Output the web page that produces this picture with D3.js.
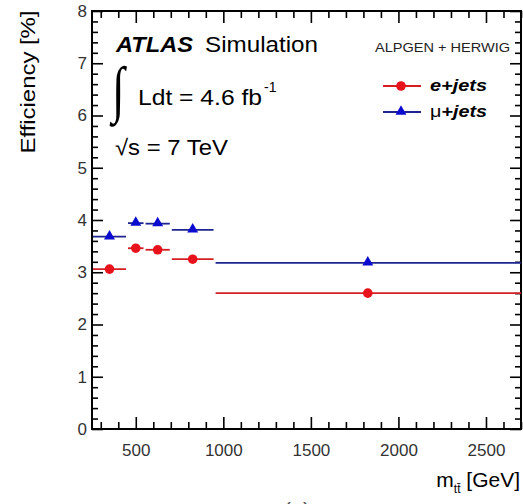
<!DOCTYPE html>
<html>
<head>
<meta charset="utf-8">
<script src="https://cdn.jsdelivr.net/npm/d3@7"></script>
<style>
  html, body { margin: 0; padding: 0; background: #fff; }
  svg { display: block; font-family: "Liberation Sans", Arial, Helvetica, sans-serif; }
</style>
</head>
<body>
<svg id="chart" width="523" height="504"></svg>
<script>
// ---- data ----
const binLow  = [250, 450, 550, 700, 950];
const binHigh = [450, 550, 700, 950, 2700];
const binCenter = [350, 500, 625, 825, 1825];
const effElectron = [3.06, 3.46, 3.43, 3.25, 2.60];
const effMuon     = [3.68, 3.94, 3.93, 3.81, 3.18];
const xMajorTicks = [500, 1000, 1500, 2000, 2500];
const yMajorTicks = [0, 1, 2, 3, 4, 5, 6, 7, 8];
const seriesNames = ["e+jets", "μ+jets"];

// ---- layout ----
const svg = d3.select("#chart");
const x = d3.scaleLinear().domain([250, 2700]).range([92, 521]);
const y = d3.scaleLinear().domain([0, 8]).range([429, 11]);

const xMinor = d3.range(300, 2701, 100).filter(v => v % 500 !== 0);
const yMinor = d3.range(0, 8.001, 0.2).map(v => +v.toFixed(1)).filter(v => Math.abs(v - Math.round(v)) > 1e-6);

const tickCol = "#000";
function styleAxis(g) {
  g.select(".domain").remove();
  g.selectAll(".tick line").attr("stroke", tickCol).attr("stroke-width", 1.6);
}

// bottom axis major with labels
svg.append("g").attr("transform", `translate(0,${y(0)})`)
  .call(d3.axisBottom(x).tickValues(xMajorTicks).tickSizeInner(-12).tickSizeOuter(0).tickPadding(15).tickFormat(d3.format("d")))
  .call(styleAxis)
  .call(g => g.selectAll("text").attr("font-size", 17).attr("fill", "#333").attr("font-family", "Liberation Sans, Arial, sans-serif"));
svg.append("g").attr("transform", `translate(0,${y(0)})`)
  .call(d3.axisBottom(x).tickValues(xMinor).tickSize(-7).tickFormat(""))
  .call(styleAxis);
// top axis
svg.append("g").attr("transform", `translate(0,${y(8)})`)
  .call(d3.axisTop(x).tickValues(xMajorTicks).tickSize(-12).tickFormat(""))
  .call(styleAxis);
svg.append("g").attr("transform", `translate(0,${y(8)})`)
  .call(d3.axisTop(x).tickValues(xMinor).tickSize(-7).tickFormat(""))
  .call(styleAxis);
// left axis
svg.append("g").attr("transform", `translate(${x(250)},0)`)
  .call(d3.axisLeft(y).tickValues(yMajorTicks).tickSizeInner(-11).tickSizeOuter(0).tickPadding(5).tickFormat(d3.format("d")))
  .call(styleAxis)
  .call(g => g.selectAll("text").attr("font-size", 17).attr("fill", "#333").attr("font-family", "Liberation Sans, Arial, sans-serif"));
svg.append("g").attr("transform", `translate(${x(250)},0)`)
  .call(d3.axisLeft(y).tickValues(yMinor).tickSize(-6).tickFormat(""))
  .call(styleAxis);
// right axis
svg.append("g").attr("transform", `translate(${x(2700)},0)`)
  .call(d3.axisRight(y).tickValues(yMajorTicks).tickSize(-11).tickFormat(""))
  .call(styleAxis);
svg.append("g").attr("transform", `translate(${x(2700)},0)`)
  .call(d3.axisRight(y).tickValues(yMinor).tickSize(-6).tickFormat(""))
  .call(styleAxis);

// frame
svg.append("rect")
  .attr("x", x(250)).attr("y", y(8))
  .attr("width", x(2700) - x(250)).attr("height", y(0) - y(8))
  .attr("fill", "none").attr("stroke", "#000").attr("stroke-width", 2);

// ---- data series ----
const series = [
  { vals: effMuon, line: "#1e2490", mark: "#0b0bcf", shape: "tri" },
  { vals: effElectron, line: "#d41e24", mark: "#e8121c", shape: "circ" }
];
const triPath = d3.symbol().type(d3.symbolTriangle).size(52);
series.forEach(s => {
  const g = svg.append("g");
  g.selectAll("line.bin").data(s.vals).enter().append("line")
    .attr("x1", (d, i) => x(binLow[i]) + 1).attr("x2", (d, i) => x(binHigh[i]) - (i === binHigh.length - 1 ? 0 : 1))
    .attr("y1", d => y(d)).attr("y2", d => y(d))
    .attr("stroke", s.line).attr("stroke-width", 1.8);
  if (s.shape === "circ") {
    g.selectAll("circle").data(s.vals).enter().append("circle")
      .attr("cx", (d, i) => x(binCenter[i])).attr("cy", d => y(d)).attr("r", 4.8)
      .attr("fill", s.mark);
  } else {
    g.selectAll("path").data(s.vals).enter().append("path")
      .attr("d", triPath)
      .attr("transform", (d, i) => `translate(${x(binCenter[i])},${y(d) - 0.5})`)
      .attr("fill", s.mark);
  }
});

// ---- labels ----
svg.append("text").attr("x", 116).attr("y", 52).attr("font-size", 22)
  .attr("font-weight", "bold").attr("font-style", "italic")
  .attr("textLength", 77).attr("lengthAdjust", "spacingAndGlyphs").text("ATLAS");
svg.append("text").attr("x", 205).attr("y", 52).attr("font-size", 22)
  .attr("textLength", 113).attr("lengthAdjust", "spacingAndGlyphs").text("Simulation");

// integral sign (thin, tall)
svg.append("text").attr("transform", "translate(112,110) scale(1,1.35)")
  .attr("font-size", 46).attr("font-family", "Liberation Serif, serif").text("∫");
svg.append("text").attr("x", 138).attr("y", 105).attr("font-size", 22)
  .attr("textLength", 124).attr("lengthAdjust", "spacingAndGlyphs").text("Ldt = 4.6 fb");
svg.append("text").attr("x", 264).attr("y", 92).attr("font-size", 14).text("-1");

svg.append("text").attr("x", 115).attr("y", 155).attr("font-size", 22)
  .attr("textLength", 113).attr("lengthAdjust", "spacingAndGlyphs").text("√s = 7 TeV");

svg.append("text").attr("x", 375).attr("y", 52).attr("font-size", 13.5)
  .attr("fill", "#222").attr("textLength", 135).attr("lengthAdjust", "spacingAndGlyphs").text("ALPGEN + HERWIG");

// legend
const legY = [86, 112];
const legSeries = [series[1], series[0]];
legSeries.forEach((s, i) => {
  svg.append("line").attr("x1", 383).attr("x2", 421).attr("y1", legY[i]).attr("y2", legY[i])
    .attr("stroke", s.line).attr("stroke-width", 1.8);
  if (s.shape === "circ") {
    svg.append("circle").attr("cx", 401).attr("cy", legY[i]).attr("r", 4.8).attr("fill", s.mark);
  } else {
    svg.append("path").attr("d", triPath).attr("transform", `translate(401,${legY[i] - 0.5})`).attr("fill", s.mark);
  }
});
svg.append("text").attr("x", 430).attr("y", 91).attr("font-size", 17)
  .attr("font-weight", "bold").attr("font-style", "italic")
  .attr("textLength", 57).attr("lengthAdjust", "spacingAndGlyphs").text(seriesNames[0]);
const mu = svg.append("text").attr("x", 430).attr("y", 117).attr("font-size", 17)
  .attr("textLength", 57).attr("lengthAdjust", "spacingAndGlyphs");
mu.append("tspan").text("μ");
mu.append("tspan").attr("font-weight", "bold").attr("font-style", "italic").text("+jets");

// axis titles
svg.append("text").attr("transform", "translate(35,82) rotate(-90)")
  .attr("text-anchor", "middle").attr("font-size", 21)
  .attr("textLength", 143).attr("lengthAdjust", "spacingAndGlyphs").text("Efficiency [%]");

const xt = svg.append("text").attr("x", 520).attr("y", 487).attr("text-anchor", "end").attr("font-size", 21);
xt.append("tspan").text("m");
xt.append("tspan").attr("font-size", 12).attr("dy", 6).text("tt̄");
xt.append("tspan").attr("dy", -6).text(" [GeV]");

// partial panel label at bottom (cut off by the image edge, as in the reference)
svg.append("text").attr("x", 297).attr("y", 518).attr("text-anchor", "middle").attr("font-size", 22).attr("fill", "#555").text("(a)");
</script>
</body>
</html>
